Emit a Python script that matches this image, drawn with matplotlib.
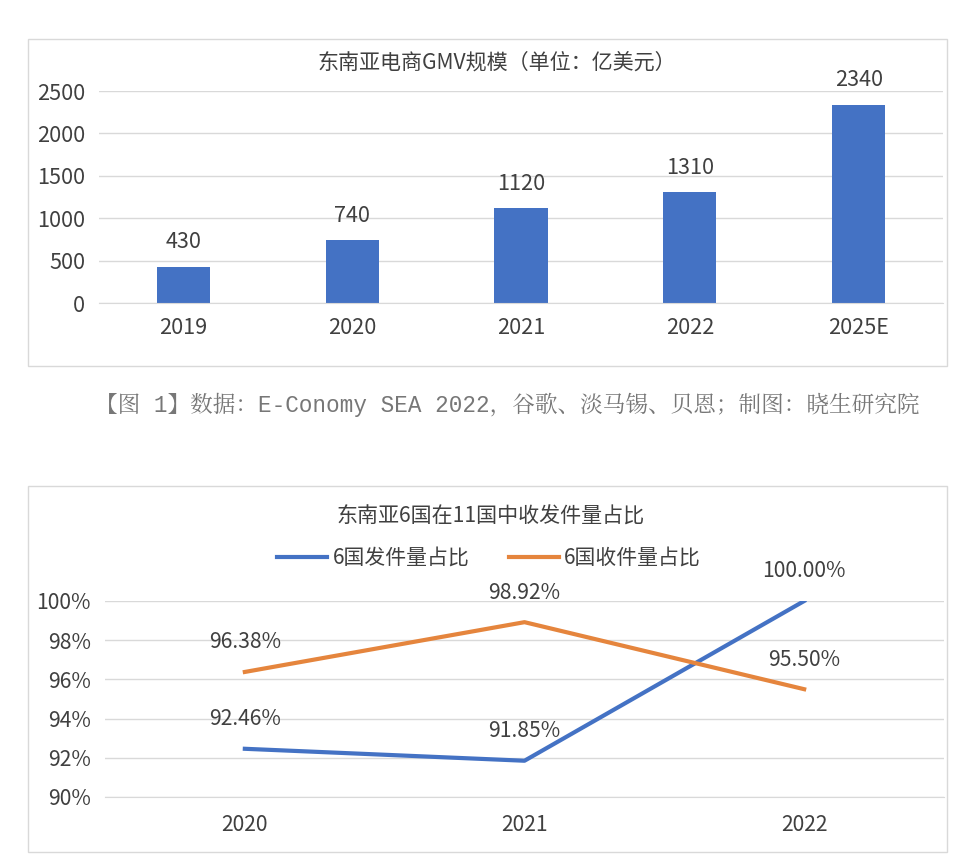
#-*- coding: utf-8 -*-
import numpy as np
import matplotlib.pyplot as plt
from matplotlib.patches import Rectangle

plt.rcParams['font.family'] = ['Noto Sans CJK SC', 'DejaVu Sans']

x1 = [0, 1, 2, 3, 4]
y11 = [430, 740, 1120, 1310, 2340]
group_labels1 = ['2019', '2020', '2021', '2022', '2025E']

x2 = [0, 1, 2]
y21 = [92.46, 91.85, 100.00]
y22 = [96.38, 98.92, 95.50]
group_labels2 = ['2020', '2021', '2022']

W = 963.0
H = 858.0
fig = plt.figure(figsize=(9.63, 8.58), dpi=100)

#chart borders
fig.patches.append(Rectangle((28/W, 1-366/H), 919/W, 327/H, transform=fig.transFigure, fill=False, edgecolor="#d9d9d9", linewidth=1))
fig.patches.append(Rectangle((28/W, 1-852/H), 919/W, 366/H, transform=fig.transFigure, fill=False, edgecolor="#d9d9d9", linewidth=1))

plt.axes([99/W, 1-303/H, 844/W, 212/H])
plt.ylim(0, 2500)
plt.xlim(-0.5, 4.5)
plt.bar(x1, y11, width=0.315, color="#4472c4", zorder=2)
plt.yticks([0, 500, 1000, 1500, 2000, 2500])
plt.xticks(x1, group_labels1)
plt.grid(axis="y", color="#d9d9d9", linewidth=1, zorder=0)
plt.tick_params(length=0, labelsize=15.6, labelcolor="#404040", pad=10)
for s in ["top", "left", "right"]:
    plt.gca().spines[s].set_visible(False)
plt.gca().spines["bottom"].set_color("#d9d9d9")
for i in x1:
    plt.text(x1[i], y11[i] + 155, str(y11[i]), ha="center", va="bottom", fontsize=15.6, color="#404040")

fig.text(497/W, 1-63/H, "东南亚电商GMV规模（单位：亿美元）", ha="center", va="center", fontsize=15.15, color="#404040")
fig.text(507.5/W, 1-405/H, "【图 1】数据：E-Conomy SEA 2022，谷歌、淡马锡、贝恩；制图：晓生研究院", ha="center", va="center",
         fontsize=16.3, color="#777777", family=["Liberation Mono", "Noto Serif CJK SC", "Noto Sans CJK SC", "DejaVu Sans"])

plt.axes([105/W, 1-797/H, 839/W, 196/H])
plt.ylim(90, 100)
plt.xlim(-0.5, 2.5)
plt.plot(x2, y21, label="6国发件量占比", color="#4472c4", linewidth=3, clip_on=True)
plt.plot(x2, y22, label="6国收件量占比", color="#e5853d", linewidth=3)
plt.yticks([90, 92, 94, 96, 98, 100], ['90%', '92%', '94%', '96%', '98%', '100%'])
plt.xticks(x2, group_labels2)
plt.grid(axis="y", color="#d9d9d9", linewidth=1, zorder=0)
plt.tick_params(length=0, labelsize=15.2, labelcolor="#404040", pad=10)
plt.tick_params(axis="x", pad=12)
for s in ["top", "left", "right"]:
    plt.gca().spines[s].set_visible(False)
plt.gca().spines["bottom"].set_color("#d9d9d9")
for i in x2:
    plt.text(x2[i], y21[i] + 0.95, "%.2f%%" % y21[i], ha="center", va="bottom", fontsize=15.2, color="#404040", clip_on=False)
    plt.text(x2[i], y22[i] + 0.95, "%.2f%%" % y22[i], ha="center", va="bottom", fontsize=15.2, color="#404040", clip_on=False)

fig.text(491/W, 1-517/H, "东南亚6国在11国中收发件量占比", ha="center", va="center", fontsize=15.15, color="#404040")
fig.legend(*plt.gca().get_legend_handles_labels(), loc="center", bbox_to_anchor=(489/W, 1-558/H), ncol=2, frameon=False,
           fontsize=15, labelcolor="#404040", handlelength=2.4, handletextpad=0.25, columnspacing=1.9)

plt.savefig("out.png")
